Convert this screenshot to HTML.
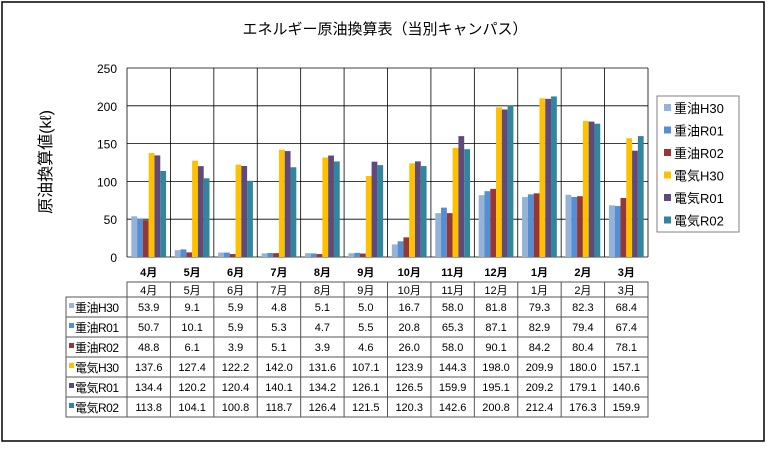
<!DOCTYPE html>
<html><head><meta charset="utf-8"><style>
body{margin:0;background:#fff;}
svg text{font-family:"Liberation Sans","Noto Sans CJK JP",sans-serif;}
</style></head><body>
<svg id="c" width="769" height="444" xmlns="http://www.w3.org/2000/svg">
<rect x="2" y="2" width="762" height="439" fill="#fff" stroke="#000" stroke-width="1.5"/>
<text x="385" y="34" font-size="15" text-anchor="middle">エネルギー原油換算表（当別キャンパス）</text>
<text transform="translate(51,162) rotate(-90)" font-size="16" text-anchor="middle">原油換算値(kℓ)</text>
<g id="plot"></g>
</svg>
<script>
const months=["4月","5月","6月","7月","8月","9月","10月","11月","12月","1月","2月","3月"];
const seriesNames=["重油H30","重油R01","重油R02","電気H30","電気R01","電気R02"];
const colors=["#95b3d7","#558ed5","#953735","#ffc000","#604a7b","#31859c"];
const s0=[53.9,9.1,5.9,4.8,5.1,5.0,16.7,58.0,81.8,79.3,82.3,68.4];
const s1=[50.7,10.1,5.9,5.3,4.7,5.5,20.8,65.3,87.1,82.9,79.4,67.4];
const s2=[48.8,6.1,3.9,5.1,3.9,4.6,26.0,58.0,90.1,84.2,80.4,78.1];
const s3=[137.6,127.4,122.2,142.0,131.6,107.1,123.9,144.3,198.0,209.9,180.0,157.1];
const s4=[134.4,120.2,120.4,140.1,134.2,126.1,126.5,159.9,195.1,209.2,179.1,140.6];
const s5=[113.8,104.1,100.8,118.7,126.4,121.5,120.3,142.6,200.8,212.4,176.3,159.9];
const yTicks=[0,50,100,150,200,250];
const series=[s0,s1,s2,s3,s4,s5];
const X0=127,X1=648,Y0=257,Y1=68,YMAX=250;
const cw=(X1-X0)/months.length;
const y=v=>Y0-(v/YMAX)*(Y0-Y1);
const xm=i=>X0+i*cw;
const NS="http://www.w3.org/2000/svg";
const g=document.getElementById('plot');
function el(t,a,txt){const e=document.createElementNS(NS,t);for(const k in a)e.setAttribute(k,a[k]);if(txt!=null)e.textContent=txt;g.appendChild(e);return e;}
yTicks.forEach(t=>{
 const l=el('line',{x1:X0,x2:X1,y1:y(t),y2:y(t),stroke:'#000','stroke-width':0.8});
 
 
 const tx=el('text',{x:X0-10,y:y(t)+5,'font-size':12,'text-anchor':'end'},t);
 
 
});
for(let i=0;i<=months.length;i++){
 const l=el('line',{x1:xm(i),x2:xm(i),y1:Y1,y2:Y0,stroke:'#000','stroke-width':0.8});
 
 
}
const bw=cw/7.5;
months.forEach((m,i)=>{
 series.forEach((s,j)=>{
  const bx=xm(i)+cw*0.1+j*bw;
  const r=el('rect',{x:bx,y:y(s[i]),width:bw,height:Y0-y(s[i]),fill:colors[j]});
  
  
 });
 const t=el('text',{x:xm(i)+cw/2,y:276,'font-size':11,'font-weight':'bold','text-anchor':'middle'},m);
 
 
});
const lg=el('rect',{x:657,y:96,width:82,height:136,fill:'#fff',stroke:'#808080'});


seriesNames.forEach((n,j)=>{
 const yy=108+j*22.5;
 const sw=el('rect',{x:664,y:yy-4,width:7,height:7,fill:colors[j]});
 
 
 const t=el('text',{x:674,y:yy+5,'font-size':13},n);
 
 
});
const TT=282,RH=20,LX=66;
const hb=el('rect',{x:X0,y:TT,width:X1-X0,height:15,fill:'none',stroke:'#555'});


months.forEach((m,i)=>{
 const t=el('text',{x:xm(i)+cw/2,y:TT+12,'font-size':11,'text-anchor':'middle'},m);
 
 
});
const DT=TT+15;
seriesNames.forEach((n,j)=>{
 const ry=DT+j*RH;
 const rr=el('rect',{x:LX,y:ry,width:X1-LX,height:RH,fill:'none',stroke:'#555'});
 
 
 const sw=el('rect',{x:LX+3,y:ry+6,width:5,height:5,fill:colors[j]});
 
 
 const lt=el('text',{x:LX+9,y:ry+15,'font-size':12,'letter-spacing':'-0.5'},n);
 
 
 months.forEach((m,i)=>{
  const t=el('text',{x:xm(i)+cw/2,y:ry+14,'font-size':11,'text-anchor':'middle'},series[j][i].toFixed(1));
  
  
 });
});
for(let i=0;i<=months.length;i++){
 const l=el('line',{x1:xm(i),x2:xm(i),y1:TT,y2:DT+6*RH,stroke:'#555'});
 
 
}
</script>
</body></html>
